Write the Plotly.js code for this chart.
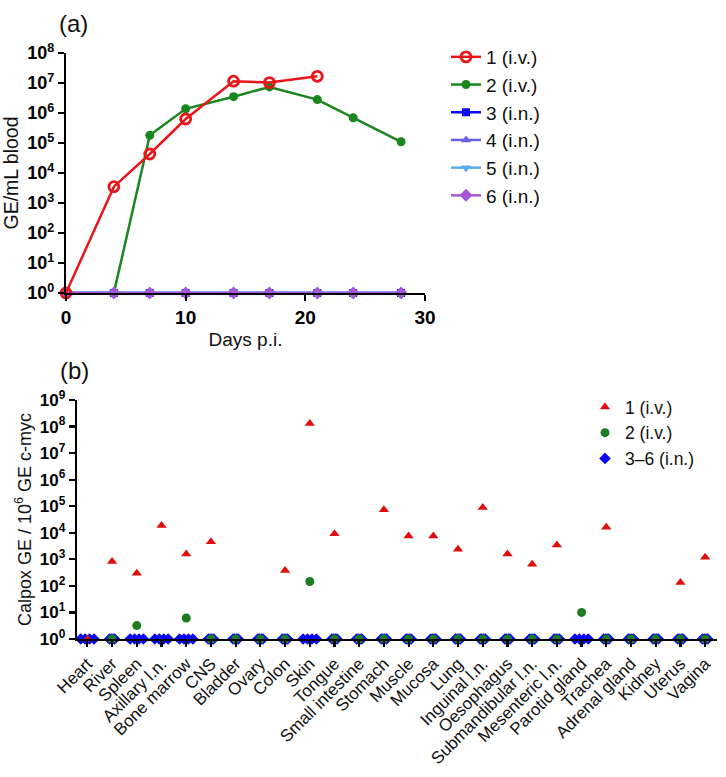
<!DOCTYPE html>
<html>
<head>
<meta charset="utf-8">
<script src="https://cdn.plot.ly/plotly-3.0.1.min.js"></script>
<style>html,body{margin:0;padding:0;background:#fff;}#chart{width:726px;height:777px;}</style>
</head>
<body>
<div id="chart"></div>
<script>
// ---------- Panel (a): blood viraemia ----------
const daysM1 = [0, 4, 7, 10, 14, 17, 21];
const geM1 = [1, 3.5e3, 4.3e4, 6.3e5, 1.15e7, 1.03e7, 1.67e7];
const daysM2 = [0, 4, 7, 10, 14, 17, 21, 24, 28];
const geM2 = [1, 1, 1.8e5, 1.38e6, 3.5e6, 7.4e6, 2.8e6, 6.9e5, 1.1e5];
const daysIN = [0, 4, 7, 10, 14, 17, 21, 24, 28];
const geM3 = [1, 1, 1, 1, 1, 1, 1, 1, 1];
const geM4 = [1, 1, 1, 1, 1, 1, 1, 1, 1];
const geM5 = [1, 1, 1, 1, 1, 1, 1, 1, 1];
const geM6 = [1, 1, 1, 1, 1, 1, 1, 1, 1];
const namesA = ['1 (i.v.)', '2 (i.v.)', '3 (i.n.)', '4 (i.n.)', '5 (i.n.)', '6 (i.n.)'];
const decadeTicksA = [0, 1, 2, 3, 4, 5, 6, 7, 8];

// ---------- Panel (b): tissue distribution ----------
const tissues = ['Heart', 'River', 'Spleen', 'Axillary l.n.', 'Bone marrow', 'CNS', 'Bladder', 'Ovary',
  'Colon', 'Skin', 'Tongue', 'Small intestine', 'Stomach', 'Muscle', 'Mucosa', 'Lung', 'Inguinal l.n.',
  'Oesophagus', 'Submandibular l.n.', 'Mesenteric l.n.', 'Parotid gland', 'Trachea', 'Adrenal gland',
  'Kidney', 'Uterus', 'Vagina'];
const tisM1 = [1, 830, 300, 1.9e4, 1.6e3, 4.6e3, 1, 1, 380, 1.3e8, 9.1e3, 1, 7.3e4, 7.6e3, 7.6e3, 2.4e3,
  8.9e4, 1.6e3, 660, 3.5e3, null, 1.6e4, 1, 1, 135, 1.2e3];
const tisM2 = [null, 1, 3.2, null, 6.2, 1, 1, 1, 1, 147, 1, 1, 1, 1, 1, 1, 1, 1, 1, 1, 10, 1, 1, 1, 1, 1];
const tisM3 = [1,1,1,1,1,1,1,1,1,1,1,1,1,1,1,1,1,1,1,1,1,1,1,1,1,1];
const tisM4 = [1,1,1,1,1,1,1,1,1,1,1,1,1,1,1,1,1,1,1,1,1,1,1,1,1,1];
const tisM5 = [1,1,1,1,1,1,1,1,1,1,1,1,1,1,1,1,1,1,1,1,1,1,1,1,1,1];
const tisM6 = [1,1,1,1,1,1,1,1,1,1,1,1,1,1,1,1,1,1,1,1,1,1,1,1,1,1];
const namesB = ['1 (i.v.)', '2 (i.v.)', '3–6 (i.n.)'];
const decadeTicksB = [0, 1, 2, 3, 4, 5, 6, 7, 8, 9];

const FONT = 'Liberation Sans, Arial, sans-serif';
const W = 726, H = 777;
const px = v => v / W;
const py = v => 1 - v / H;

const sci = d => '10<sup>' + d + '</sup>';

// colours
const cRed = '#e8161b', cGreen = '#19861f', cBlue = '#0a0af0', cSlate = '#6a5fe0', cSky = '#5aa8ee', cPurple = '#a458d8';

const traces = [];
// panel a — draw order: 2, 3..6, 1 (legend ordered by rank)
traces.push({x: daysM2, y: geM2, name: namesA[1], type: 'scatter', mode: 'lines+markers', xaxis: 'x', yaxis: 'y',
  line: {color: cGreen, width: 2.5}, marker: {symbol: 'circle', size: 9, color: cGreen}, legend: 'legend', legendrank: 2, cliponaxis: false});
traces.push({x: daysIN, y: geM3, name: namesA[2], type: 'scatter', mode: 'lines+markers', xaxis: 'x', yaxis: 'y',
  line: {color: cBlue, width: 2.5}, marker: {symbol: 'square', size: 8, color: cBlue}, legend: 'legend', legendrank: 3, cliponaxis: false});
traces.push({x: daysIN, y: geM4, name: namesA[3], type: 'scatter', mode: 'lines+markers', xaxis: 'x', yaxis: 'y',
  line: {color: cSlate, width: 2.5}, marker: {symbol: 'triangle-up', size: 9, color: cSlate}, legend: 'legend', legendrank: 4, cliponaxis: false});
traces.push({x: daysIN, y: geM5, name: namesA[4], type: 'scatter', mode: 'lines+markers', xaxis: 'x', yaxis: 'y',
  line: {color: cSky, width: 2.5}, marker: {symbol: 'triangle-down', size: 9, color: cSky}, legend: 'legend', legendrank: 5, cliponaxis: false});
traces.push({x: daysIN, y: geM6, name: namesA[5], type: 'scatter', mode: 'lines+markers', xaxis: 'x', yaxis: 'y',
  line: {color: cPurple, width: 2.5}, marker: {symbol: 'diamond', size: 10, color: cPurple}, legend: 'legend', legendrank: 6, cliponaxis: false});
traces.push({x: daysM1, y: geM1, name: namesA[0], type: 'scatter', mode: 'lines+markers', xaxis: 'x', yaxis: 'y',
  line: {color: cRed, width: 2.5}, marker: {symbol: 'circle-open', size: 10, color: cRed, line: {width: 2.8, color: cRed}}, legend: 'legend', legendrank: 1, cliponaxis: false});

// panel b — blue diamonds (mice 3–6) spread horizontally around the category
const idx = tissues.map((_, i) => i);
const inSets = [tisM3, tisM4, tisM5, tisM6];
const bx = [], by = [], bt = [];
inSets.forEach((arr, k) => {
  arr.forEach((v, i) => {
    const covered = tisM2[i] === 1; // green point sits on the same spot
    const step = covered ? 0.07 : 0.18;
    bx.push(i + (k - 1.5) * step);
    by.push(v);
    bt.push(tissues[i]);
  });
});
traces.push({x: bx, y: by, text: bt, name: namesB[2], type: 'scatter', mode: 'markers', xaxis: 'x2', yaxis: 'y2',
  marker: {symbol: 'diamond', size: 9, color: cBlue}, legend: 'legend2', legendrank: 3, cliponaxis: false});
traces.push({x: idx, y: tisM1, text: tissues, name: namesB[0], type: 'scatter', mode: 'markers', xaxis: 'x2', yaxis: 'y2',
  marker: {symbol: 'triangle-up', size: 9, color: '#e00d0d'}, legend: 'legend2', legendrank: 1, cliponaxis: false});
traces.push({x: idx, y: tisM2, text: tissues, name: namesB[1], type: 'scatter', mode: 'markers', xaxis: 'x2', yaxis: 'y2',
  marker: {symbol: 'circle', size: 9, color: '#1a7d1f'}, legend: 'legend2', legendrank: 2, cliponaxis: false});

const axisCommon = {
  showgrid: false, zeroline: false, showline: true, linecolor: '#000', linewidth: 2.2,
  ticks: 'outside', ticklen: 6, tickwidth: 2.2, tickcolor: '#000', automargin: false
};

const layout = {
  width: W, height: H,
  margin: {l: 0, r: 0, t: 0, b: 0},
  paper_bgcolor: '#fff', plot_bgcolor: '#fff',
  font: {family: FONT, color: '#111'},
  xaxis: Object.assign({}, axisCommon, {
    domain: [px(66), px(425)], range: [0, 30], tickvals: [0, 10, 20, 30],
    tickfont: {family: FONT, size: 19, weight: 'bold', color: '#000'},
    anchor: 'y',
    title: {text: 'Days p.i.', font: {family: FONT, size: 19, color: '#111'}, standoff: 6}
  }),
  yaxis: Object.assign({}, axisCommon, {
    type: 'log', domain: [py(293), py(53)], range: [0, 8],
    tickvals: decadeTicksA.map(d => Math.pow(10, d)), ticktext: decadeTicksA.map(sci),
    tickfont: {family: FONT, size: 18, weight: 'bold', color: '#000'},
    anchor: 'x',
    title: {text: 'GE/mL blood', font: {family: FONT, size: 19.5, color: '#111'}, standoff: 4}
  }),
  xaxis2: Object.assign({}, axisCommon, {
    domain: [px(77), px(717)], range: [-0.42, 25.48],
    tickvals: idx, ticktext: tissues, tickangle: -45,
    tickfont: {family: FONT, size: 17, color: '#111'},
    anchor: 'y2'
  }),
  yaxis2: Object.assign({}, axisCommon, {
    type: 'log', domain: [py(639), py(400)], range: [0, 9],
    tickvals: decadeTicksB.map(d => Math.pow(10, d)), ticktext: decadeTicksB.map(sci),
    tickfont: {family: FONT, size: 17, weight: 'bold', color: '#000'},
    anchor: 'x2',
    title: {text: 'Calpox GE / 10<sup>6</sup> GE c-myc', font: {family: FONT, size: 18, color: '#111'}, standoff: 4}
  }),
  legend: {
    x: px(446), y: py(38), xanchor: 'left', yanchor: 'top', xref: 'paper', yref: 'paper',
    font: {family: FONT, size: 19, color: '#111'}, bgcolor: 'rgba(0,0,0,0)', traceorder: 'normal',
    itemwidth: 30, tracegroupgap: 0
  },
  legend2: {
    x: px(585), y: py(389), xanchor: 'left', yanchor: 'top', xref: 'paper', yref: 'paper',
    font: {family: FONT, size: 17.5, color: '#111'}, bgcolor: 'rgba(0,0,0,0)', traceorder: 'normal',
    itemwidth: 30, tracegroupgap: 0
  },
  annotations: [
    {text: '(a)', x: px(73), y: py(23), xref: 'paper', yref: 'paper', showarrow: false,
      font: {family: FONT, size: 24, color: '#111'}, xanchor: 'center', yanchor: 'middle'},
    {text: '(b)', x: px(74), y: py(370), xref: 'paper', yref: 'paper', showarrow: false,
      font: {family: FONT, size: 24, color: '#111'}, xanchor: 'center', yanchor: 'middle'}
  ],
  showlegend: true
};

Plotly.newPlot('chart', traces, layout, {displayModeBar: false, staticPlot: true});
</script>
</body>
</html>
